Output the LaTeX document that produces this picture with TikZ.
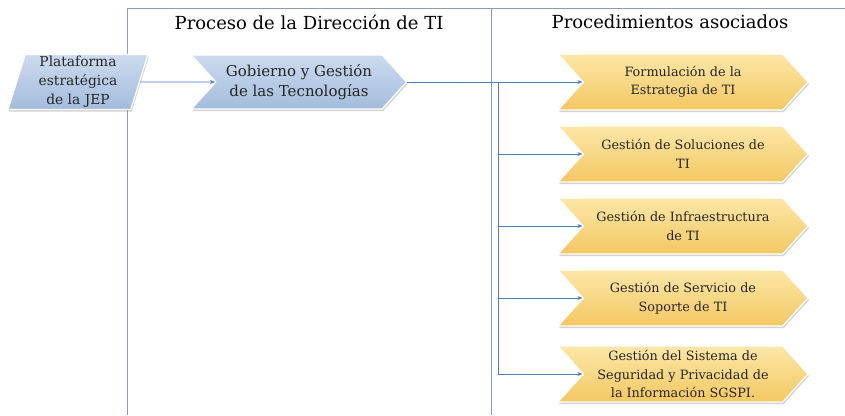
\documentclass[tikz,border=0pt]{standalone}
\usepackage{fontspec}
\setmainfont{DejaVu Serif}
\usetikzlibrary{shapes.symbols,shapes.geometric,arrows.meta,shadows,shadings}
\definecolor{frameC}{HTML}{8A9CBC}
\definecolor{lineC}{HTML}{4F7BC4}
\definecolor{blueT}{HTML}{CCDBEE}
\definecolor{blueB}{HTML}{A3BCDC}
\definecolor{yelT}{HTML}{FCE7A8}
\definecolor{yelB}{HTML}{F3C862}
\definecolor{txtC}{HTML}{262626}
\tikzset{
  framel/.style={draw=frameC, line width=0.9pt},
  conn/.style={draw=lineC, line width=0.9pt, -{Stealth[length=5pt,width=4pt]}},
  connplain/.style={draw=lineC, line width=0.9pt},
  bluechev/.style={shape=signal, signal from=west, signal to=east, signal pointer angle=96,
    minimum width=215pt, minimum height=54pt, inner sep=0pt, align=center,
    top color=blueT, bottom color=blueB, draw=white, line width=1.2pt,
    drop shadow={opacity=0.35, shadow xshift=1pt, shadow yshift=-2pt},
    text=txtC, font=\fontsize{15}{20}\selectfont},
  yelchev/.style={shape=signal, signal from=west, signal to=east, signal pointer angle=96,
    minimum width=250pt, minimum height=56pt, inner sep=0pt, align=center,
    top color=yelT, bottom color=yelB, draw=white, line width=1.2pt,
    drop shadow={opacity=0.35, shadow xshift=1pt, shadow yshift=-2pt},
    text=txtC, font=\fontsize{12.8}{18.5}\selectfont},
  platbox/.style={shape=trapezium, trapezium left angle=76, trapezium right angle=104,
    trapezium stretches=true, minimum width=140pt, minimum height=55pt, inner sep=0pt,
    align=center, top color=blueT, bottom color=blueB, draw=white, line width=1.2pt,
    drop shadow={opacity=0.35, shadow xshift=1pt, shadow yshift=-2pt},
    text=txtC, font=\fontsize{13.8}{19}\selectfont},
  header/.style={font=\fontsize{18}{22}\selectfont}
}
\begin{document}
\begin{tikzpicture}[x=1pt,y=-1pt]
\useasboundingbox (0,0) rectangle (845,415);
% frame
\coordinate (ftl) at (127,8);
\coordinate (ftr) at (845,8);
\coordinate (fbl) at (127,415);
\coordinate (fmt) at (491,8);
\coordinate (fmb) at (491,415);
\draw[framel] (fbl) -- (ftl) -- (ftr);
\draw[framel] (fmt) -- (fmb);
% headers
\node[header] (h1) at (309,22) {Proceso de la Dirección de TI};
\node[header] (h2) at (670,22) {Procedimientos asociados};
% nodes
\node[platbox] (plat) at (78,82) {Plataforma\\estratégica\\de la JEP};
\node[bluechev] (gob) at (299,82) {Gobierno y Gestión\\de las Tecnologías};
\node[yelchev] (p1) at (683,82) {Formulación de la\\Estrategia de TI};
\node[yelchev] (p2) at (683,154) {Gestión de Soluciones de\\TI};
\node[yelchev] (p3) at (683,226) {Gestión de Infraestructura\\de TI};
\node[yelchev] (p4) at (683,298) {Gestión de Servicio de\\Soporte de TI};
\node[yelchev] (p5) at (683,374) {Gestión del Sistema de\\Seguridad y Privacidad de\\la Información SGSPI.};
% connectors
\coordinate (j) at (498,82);
\draw[conn] (plat.east) -- (gob.west);
\draw[conn] (gob.east) -- (p1.west);
\draw[connplain] (j) -- (498,374);
\foreach \k in {2,3,4,5} {\draw[conn] (j) |- (p\k.west);}
\end{tikzpicture}
\end{document}
